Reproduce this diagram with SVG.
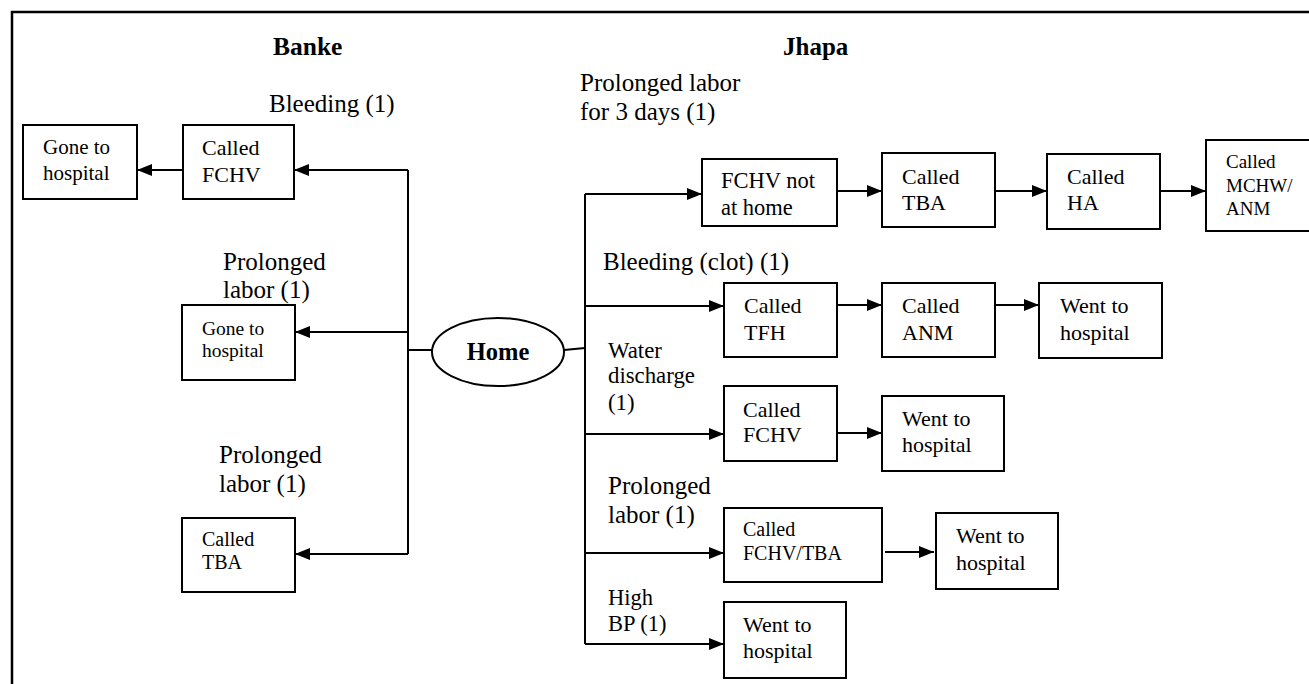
<svg xmlns="http://www.w3.org/2000/svg" width="1309" height="684" viewBox="0 0 1309 684">
<style>
  .box{fill:#fff;stroke:#000;stroke-width:2}
  .t{font-family:"Liberation Serif","Times New Roman",serif;fill:#000}
  .b{font-weight:bold}
  .lbl{font-size:25px}
  .con{fill:none;stroke:#000;stroke-width:2}
  .arr{marker-end:url(#ah)}
</style>
<defs>
  <marker id="ah" markerUnits="userSpaceOnUse" markerWidth="15" markerHeight="12" refX="15" refY="6" orient="auto">
    <path d="M0,0 L15,6 L0,12 z" fill="#000"/>
  </marker>
</defs>
<rect width="1309" height="684" fill="#fff"/>
<path d="M12,684 V12 H1309" fill="none" stroke="#000" stroke-width="2.5"/>

<g id="titles">
  <text class="t b" x="273" y="55" font-size="25.5">Banke</text>
  <text class="t b" x="783" y="55" font-size="25">Jhapa</text>
</g>

<g id="labels" class="t">
  <text class="lbl" x="269" y="112">Bleeding (1)</text>
  <text class="lbl" x="223" y="270">Prolonged</text>
  <text class="lbl" x="223" y="298">labor (1)</text>
  <text class="lbl" x="219" y="463">Prolonged</text>
  <text class="lbl" x="219" y="492">labor (1)</text>
  <text class="lbl" x="580" y="91">Prolonged labor</text>
  <text class="lbl" x="580" y="120">for 3 days (1)</text>
  <text class="lbl" x="603" y="270">Bleeding (clot) (1)</text>
  <text x="608" y="358" font-size="22.8">Water</text>
  <text x="608" y="383" font-size="22.8">discharge</text>
  <text x="608" y="410" font-size="22.8">(1)</text>
  <text class="lbl" x="608" y="494">Prolonged</text>
  <text class="lbl" x="608" y="523">labor (1)</text>
  <text x="608" y="605" font-size="22.5">High</text>
  <text x="608" y="631" font-size="22.5">BP (1)</text>
</g>

<g id="connectors">
  <path class="con" d="M408,170 V554"/>
  <path class="con arr" d="M408,170 H294"/>
  <path class="con arr" d="M183,170 H137"/>
  <path class="con arr" d="M408,332 H295"/>
  <path class="con arr" d="M408,554 H295"/>
  <path class="con" d="M408,350 H432"/>
  <path class="con" d="M564,350 L585,348"/>
  <path class="con" d="M585,194 V644"/>
  <path class="con arr" d="M585,194 H702"/>
  <path class="con arr" d="M837,191 H882"/>
  <path class="con arr" d="M995,191 H1047"/>
  <path class="con arr" d="M1160,191 H1206"/>
  <path class="con arr" d="M585,306 H724"/>
  <path class="con arr" d="M837,305 H882"/>
  <path class="con arr" d="M995,305 H1039"/>
  <path class="con arr" d="M585,434 H724"/>
  <path class="con arr" d="M837,433 H882"/>
  <path class="con arr" d="M585,553 H724"/>
  <path class="con arr" d="M885,552 H934"/>
  <path class="con arr" d="M585,644 H724"/>
</g>

<g id="home">
  <ellipse class="box" cx="498" cy="352" rx="66" ry="34"/>
  <text class="t b" x="498" y="360" font-size="24.5" text-anchor="middle">Home</text>
</g>

<g id="banke-gone1">
  <rect class="box" x="23" y="125" width="114" height="74"/>
  <text class="t" x="43" y="154" font-size="21">Gone to</text>
  <text class="t" x="43" y="180" font-size="21">hospital</text>
</g>
<g id="banke-fchv">
  <rect class="box" x="183" y="125" width="111" height="74"/>
  <text class="t" x="202" y="155" font-size="22">Called</text>
  <text class="t" x="202" y="182" font-size="22">FCHV</text>
</g>
<g id="banke-gone2">
  <rect class="box" x="182" y="305" width="113" height="75"/>
  <text class="t" x="202" y="335" font-size="19.5">Gone to</text>
  <text class="t" x="202" y="357" font-size="19.5">hospital</text>
</g>
<g id="banke-tba">
  <rect class="box" x="182" y="518" width="113" height="74"/>
  <text class="t" x="202" y="546" font-size="20">Called</text>
  <text class="t" x="202" y="569" font-size="20">TBA</text>
</g>

<g id="j-fchvnot">
  <rect class="box" x="702" y="159" width="135" height="67"/>
  <text class="t" x="721" y="188" font-size="22.5">FCHV not</text>
  <text class="t" x="721" y="215" font-size="22.5">at home</text>
</g>
<g id="j-tba">
  <rect class="box" x="882" y="153" width="113" height="74"/>
  <text class="t" x="902" y="184" font-size="22">Called</text>
  <text class="t" x="902" y="210" font-size="22">TBA</text>
</g>
<g id="j-ha">
  <rect class="box" x="1047" y="154" width="113" height="75"/>
  <text class="t" x="1067" y="184" font-size="22">Called</text>
  <text class="t" x="1067" y="210" font-size="22">HA</text>
</g>
<g id="j-mchw">
  <rect class="box" x="1206" y="140" width="110" height="91"/>
  <text class="t" x="1226" y="168" font-size="19">Called</text>
  <text class="t" x="1226" y="192" font-size="19">MCHW/</text>
  <text class="t" x="1226" y="215" font-size="19">ANM</text>
</g>
<g id="j-tfh">
  <rect class="box" x="724" y="283" width="113" height="74"/>
  <text class="t" x="744" y="313" font-size="22">Called</text>
  <text class="t" x="744" y="340" font-size="22">TFH</text>
</g>
<g id="j-anm">
  <rect class="box" x="882" y="283" width="113" height="74"/>
  <text class="t" x="902" y="313" font-size="22">Called</text>
  <text class="t" x="902" y="340" font-size="22">ANM</text>
</g>
<g id="j-went1">
  <rect class="box" x="1039" y="283" width="123" height="75"/>
  <text class="t" x="1060" y="313" font-size="22">Went to</text>
  <text class="t" x="1060" y="340" font-size="22">hospital</text>
</g>
<g id="j-fchv">
  <rect class="box" x="724" y="386" width="113" height="75"/>
  <text class="t" x="743" y="417" font-size="22">Called</text>
  <text class="t" x="743" y="442" font-size="22">FCHV</text>
</g>
<g id="j-went2">
  <rect class="box" x="882" y="396" width="122" height="75"/>
  <text class="t" x="902" y="426" font-size="22">Went to</text>
  <text class="t" x="902" y="452" font-size="22">hospital</text>
</g>
<g id="j-fchvtba">
  <rect class="box" x="724" y="508" width="158" height="74"/>
  <text class="t" x="743" y="536" font-size="20">Called</text>
  <text class="t" x="743" y="560" font-size="20">FCHV/TBA</text>
</g>
<g id="j-went3">
  <rect class="box" x="936" y="513" width="122" height="76"/>
  <text class="t" x="956" y="543" font-size="22">Went to</text>
  <text class="t" x="956" y="570" font-size="22">hospital</text>
</g>
<g id="j-went4">
  <rect class="box" x="724" y="602" width="122" height="76"/>
  <text class="t" x="743" y="632" font-size="22">Went to</text>
  <text class="t" x="743" y="658" font-size="22">hospital</text>
</g>
</svg>
